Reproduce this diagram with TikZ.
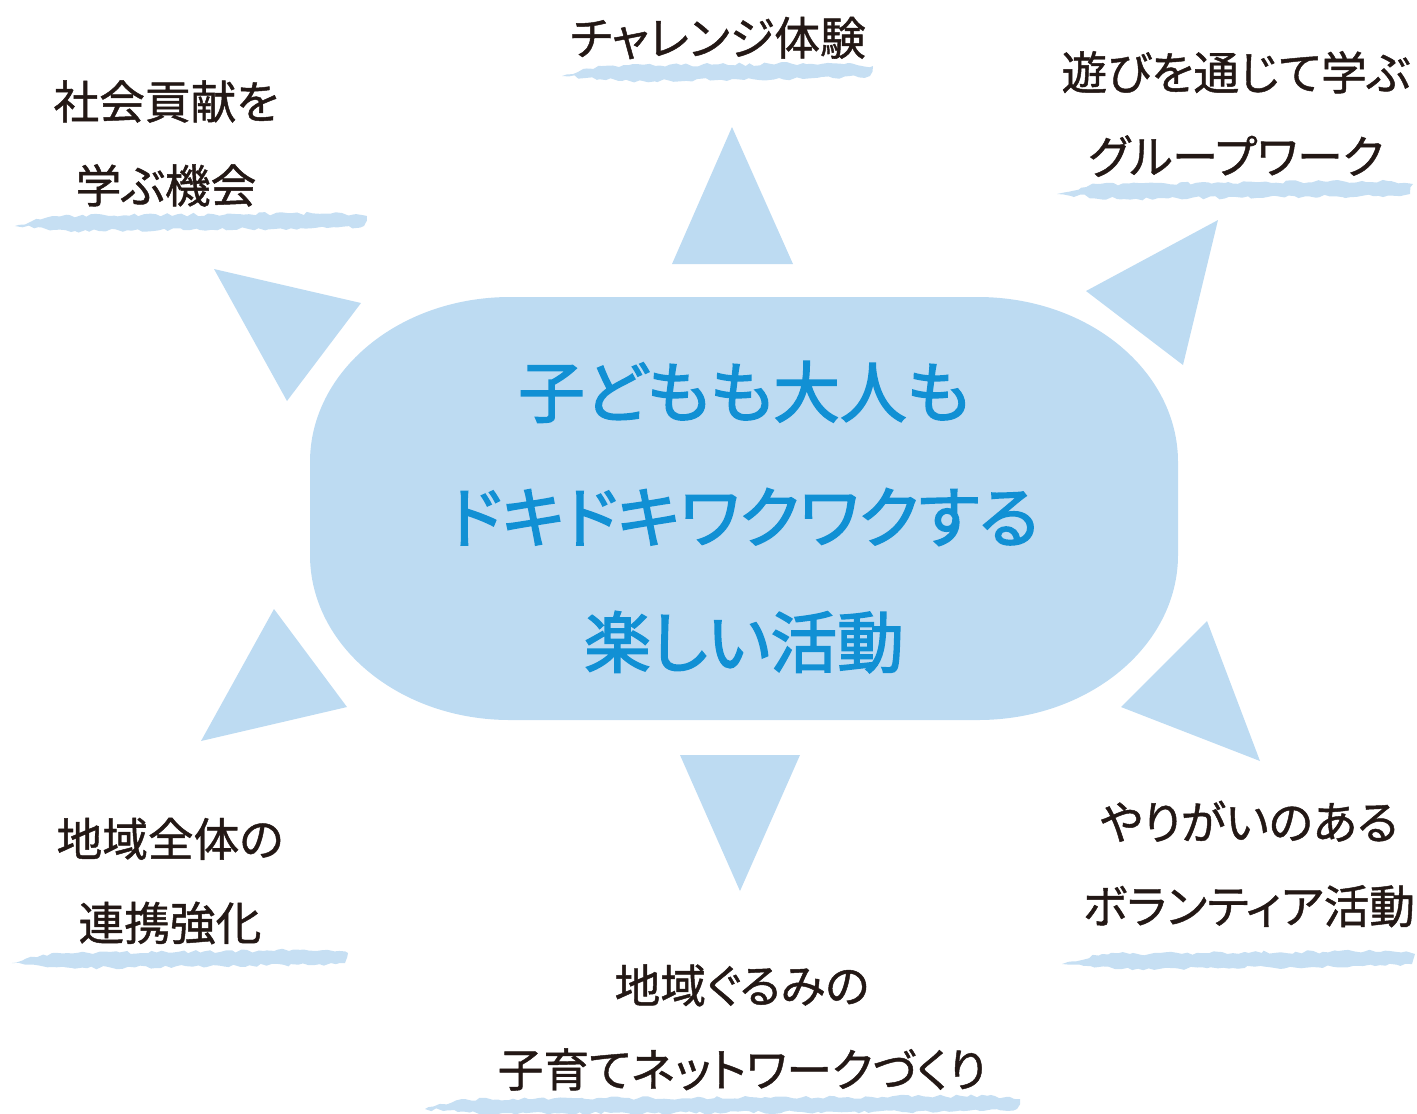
\documentclass[tikz,border=0pt]{standalone}
\usepackage{fontspec}
\usepackage{xcolor}
\usetikzlibrary{decorations.pathmorphing}
\newfontfamily\jpfont[RawFeature=+palt,FakeBold=1]{Noto Sans CJK JP}
\newfontfamily\jpmotto[RawFeature=+palt,FakeBold=2.2]{Noto Sans CJK JP}

\definecolor{skyfill}{HTML}{BDDBF2}
\definecolor{skyink}{HTML}{1190D4}
\definecolor{brushblue}{HTML}{C6DFF3}
\definecolor{darkink}{HTML}{231815}

\tikzset{
  ray/.style={fill=skyfill},
  core/.style={fill=skyfill},
  tag/.style={text=darkink,align=center,font=\jpfont\fontsize{13pt}{23.9pt}\selectfont},
  motto/.style={text=skyink,align=center,font=\jpmotto\fontsize{19pt}{35.6pt}\selectfont},
  brush/.style={fill=brushblue,decorate,decoration={random steps,segment length=1.5pt,amplitude=0.5pt}}
}

\newcommand{\brushline}[3]{%
  \fill[brush] (#1,{#3-0.04}) -- ({#1+0.4},{#3+0.06}) -- ({#2-0.25},{#3+0.09})
    -- (#2,{#3+0.06}) -- ({#2-0.03},{#3-0.04}) -- ({#2-0.4},{#3-0.06})
    -- ({#1+0.6},{#3-0.09}) -- cycle;}

\begin{document}
\begin{tikzpicture}
\pgfmathsetseed{7}
\useasboundingbox (0,0) rectangle (14.17,-11.13);

% centre
\fill[core] (5.10,-2.97) -- (9.78,-2.97)
  arc[start angle=90,end angle=0,x radius=2,y radius=1.65] -- (11.78,-5.55)
  arc[start angle=0,end angle=-90,x radius=2,y radius=1.65] -- (5.10,-7.20)
  arc[start angle=270,end angle=180,x radius=2,y radius=1.65] -- (3.10,-4.62)
  arc[start angle=180,end angle=90,x radius=2,y radius=1.65] -- cycle;
\node[motto] (M) at (7.44,-5.17) {子どもも大人も\\ドキドキワクワクする\\楽しい活動};

% rays
\fill[ray] (7.32,-1.27) -- (6.72,-2.64) -- (7.93,-2.64) -- cycle;
\fill[ray] (2.14,-2.69) -- (3.61,-3.03) -- (2.87,-4.01) -- cycle;
\fill[ray] (12.18,-2.20) -- (10.86,-2.91) -- (11.83,-3.65) -- cycle;
\fill[ray] (2.74,-6.09) -- (3.47,-7.07) -- (2.01,-7.41) -- cycle;
\fill[ray] (12.07,-6.21) -- (12.60,-7.61) -- (11.21,-7.07) -- cycle;
\fill[ray] (6.80,-7.55) -- (8.00,-7.55) -- (7.40,-8.91) -- cycle;

% labels
\brushline{5.62}{8.73}{-0.72}
\node[tag] (chal) at (7.18,-0.38) {チャレンジ体験};

\brushline{0.15}{3.67}{-2.22}
\node[tag] (soc) at (1.66,-1.435) {社会貢献を\\学ぶ機会};

\brushline{10.57}{14.13}{-1.90}
\node[tag] (play) at (12.36,-1.14) {遊びを通じて学ぶ\\グループワーク};

\brushline{0.12}{3.48}{-9.59}
\node[tag] (area) at (1.70,-8.81) {地域全体の\\連携強化};

\brushline{10.62}{14.15}{-9.60}
\node[tag] (vol) at (12.49,-8.64) {やりがいのある\\ボランティア活動};

\brushline{4.25}{10.20}{-11.05}
\node[tag] (net) at (7.42,-10.275) {地域ぐるみの\\子育てネットワークづくり};

\end{tikzpicture}
\end{document}
